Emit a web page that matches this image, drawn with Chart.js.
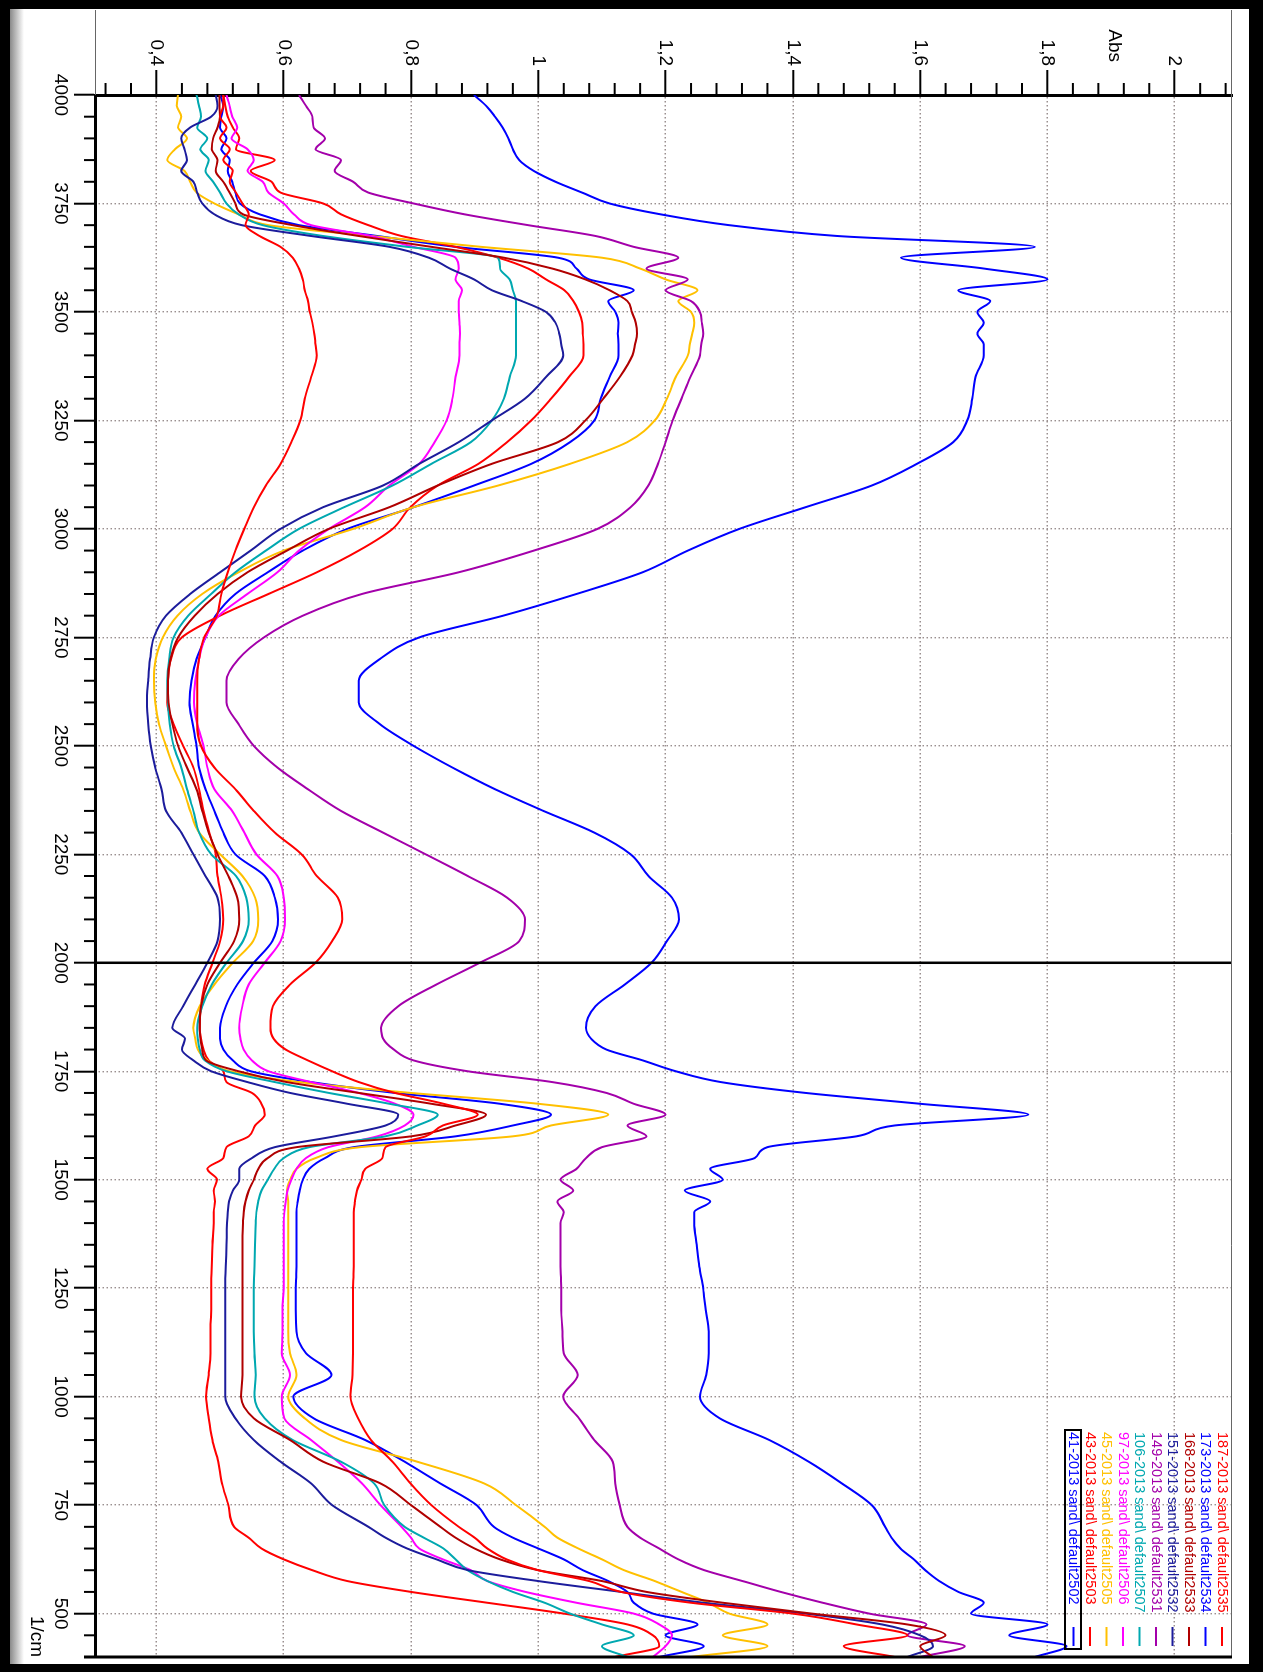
<!DOCTYPE html>
<html>
<head>
<meta charset="utf-8">
<script src="https://cdn.jsdelivr.net/npm/chart.js@4.4.1/dist/chart.umd.min.js"></script>
<style>
html, body { margin:0; padding:0; background:#fff; }
#page { position:relative; width:1263px; height:1672px; overflow:hidden; background:#fff; }
#frame { position:absolute; left:0; top:0; width:1263px; height:1672px; box-sizing:border-box;
  border-style:solid; border-color:#000; border-width:9px 14px 8px 10px; }
#shade { position:absolute; left:10px; top:9px; width:14px; height:1655px;
  background:linear-gradient(to right, #8a8a8a, #fff); }
#rot { position:absolute; left:0; top:0; width:1672px; height:1263px;
  transform-origin:0 0; transform:translate(1263px,0) rotate(90deg); }
</style>
</head>
<body>
<div id="page">
  <div id="frame"></div>
  <div id="shade"></div>
  <div id="rot"><canvas id="spec" width="1672" height="1263" style="width:1672px;height:1263px"></canvas></div>
</div>
<script>
/* ================= AXES ================= */
const wnTicks = [4000, 3750, 3500, 3250, 3000, 2750, 2500, 2250, 2000, 1750, 1500, 1250, 1000, 750, 500];
const absTicks = [0.4, 0.6, 0.8, 1, 1.2, 1.4, 1.6, 1.8, 2];

/* ================= WAVENUMBERS (1/cm) ================= */
const wavenumbers = [
4000,3975,3950,3925,3900,3875,3850,3825,3800,3775,3750,3725,3700,3675,3650,3625,3600,3575,3550,3525,3500,3475,3450,3425,3400,
3350,3300,3250,3200,3150,3100,3050,3000,2950,2900,2850,2800,2750,2700,2650,2600,2550,2500,2450,2400,2350,2300,2250,2200,2150,2100,2050,2000,1950,1900,1850,
1825,1800,1775,1750,1725,1700,1675,1650,1625,1600,1575,1550,1525,1500,1475,1450,1425,
1400,1350,1300,1250,1200,1150,1100,1050,1000,950,900,850,800,750,700,
675,650,625,600,575,550,525,500,475,450,425,400
];

/* ================= SPECTRA (Abs) ================= */
const s187 = [
0.505,0.505,0.500,0.510,0.500,0.515,0.505,0.520,0.515,0.525,0.535,0.545,0.540,0.562,0.595,0.614,0.624,0.630,0.633,0.638,0.641,0.645,0.648,0.650,0.652,
0.643,0.633,0.626,0.612,0.595,0.572,0.553,0.538,0.524,0.512,0.502,0.495,0.475,0.467,0.464,0.464,0.464,0.470,0.491,0.524,0.553,0.586,0.628,0.652,0.685,0.692,0.676,0.650,0.610,0.583,0.579,
0.584,0.603,0.638,0.676,0.718,0.775,0.851,0.905,0.850,0.823,0.760,0.755,0.728,0.722,0.715,0.712,0.710,
0.710,0.710,0.710,0.709,0.709,0.709,0.709,0.708,0.705,0.717,0.737,0.771,0.799,0.832,0.875,
0.900,0.920,0.950,1.000,1.080,1.130,1.240,1.400,1.500,1.580,1.480,1.560
];
const s173 = [
0.899,0.918,0.932,0.944,0.953,0.960,0.970,0.993,1.027,1.069,1.112,1.192,1.300,1.470,1.780,1.570,1.700,1.800,1.660,1.710,1.690,1.700,1.690,1.700,1.700,
1.687,1.682,1.674,1.652,1.595,1.524,1.420,1.316,1.235,1.164,1.060,0.945,0.813,0.751,0.718,0.718,0.751,0.804,0.865,0.932,1.008,1.088,1.145,1.173,1.210,1.221,1.202,1.178,1.136,1.090,1.075,
1.083,1.107,1.164,1.216,1.287,1.420,1.600,1.770,1.560,1.500,1.360,1.340,1.270,1.290,1.230,1.270,1.245,
1.245,1.249,1.253,1.259,1.263,1.268,1.268,1.264,1.254,1.285,1.363,1.425,1.477,1.524,1.545,
1.555,1.569,1.590,1.608,1.630,1.660,1.700,1.680,1.800,1.740,1.830,1.780
];
const s168 = [
0.499,0.499,0.500,0.496,0.489,0.487,0.496,0.493,0.505,0.515,0.524,0.536,0.614,0.718,0.832,0.946,1.022,1.074,1.112,1.140,1.147,1.153,1.155,1.152,1.148,
1.128,1.102,1.074,1.031,0.927,0.842,0.766,0.671,0.605,0.543,0.496,0.460,0.434,0.422,0.418,0.419,0.425,0.434,0.448,0.463,0.472,0.482,0.496,0.513,0.527,0.530,0.522,0.500,0.480,0.470,0.468,
0.469,0.472,0.478,0.529,0.605,0.718,0.832,0.918,0.870,0.800,0.620,0.575,0.560,0.553,0.545,0.540,0.537,
0.536,0.535,0.535,0.535,0.535,0.535,0.535,0.535,0.533,0.553,0.610,0.662,0.752,0.800,0.846,
0.870,0.900,0.940,1.000,1.100,1.170,1.290,1.430,1.580,1.640,1.600,1.620
];
const s151 = [
0.493,0.496,0.486,0.453,0.439,0.444,0.448,0.439,0.458,0.464,0.472,0.491,0.534,0.643,0.766,0.828,0.861,0.899,0.927,0.974,1.012,1.027,1.033,1.036,1.039,
1.012,0.979,0.927,0.875,0.813,0.756,0.662,0.595,0.548,0.500,0.453,0.415,0.396,0.390,0.387,0.385,0.387,0.391,0.398,0.408,0.415,0.439,0.458,0.477,0.496,0.500,0.496,0.480,0.461,0.442,0.425,
0.445,0.440,0.458,0.486,0.543,0.610,0.700,0.780,0.760,0.680,0.586,0.550,0.530,0.530,0.520,0.514,0.512,
0.511,0.510,0.509,0.508,0.508,0.508,0.508,0.508,0.508,0.524,0.553,0.595,0.643,0.676,0.733,
0.760,0.794,0.840,0.890,1.000,1.130,1.260,1.420,1.540,1.600,1.620,1.580
];
const s149 = [
0.624,0.635,0.645,0.647,0.665,0.650,0.690,0.680,0.709,0.733,0.804,0.884,0.984,1.090,1.150,1.220,1.170,1.235,1.200,1.240,1.254,1.257,1.259,1.256,1.254,
1.239,1.225,1.211,1.200,1.188,1.173,1.145,1.093,0.993,0.875,0.723,0.630,0.569,0.529,0.510,0.510,0.529,0.553,0.590,0.638,0.690,0.756,0.823,0.889,0.951,0.979,0.970,0.908,0.840,0.780,0.753,
0.756,0.773,0.804,0.889,1.022,1.107,1.150,1.200,1.140,1.170,1.100,1.075,1.060,1.035,1.055,1.030,1.040,
1.035,1.035,1.035,1.036,1.036,1.038,1.040,1.062,1.039,1.064,1.088,1.117,1.121,1.128,1.140,
1.160,1.190,1.220,1.261,1.321,1.381,1.447,1.520,1.610,1.580,1.670,1.600
];
const s106 = [
0.463,0.467,0.470,0.464,0.480,0.469,0.482,0.477,0.489,0.500,0.510,0.529,0.567,0.662,0.794,0.937,0.940,0.955,0.960,0.965,0.965,0.965,0.965,0.965,0.965,
0.955,0.946,0.927,0.894,0.832,0.771,0.695,0.624,0.572,0.524,0.486,0.450,0.427,0.420,0.417,0.418,0.421,0.427,0.439,0.448,0.458,0.467,0.486,0.525,0.541,0.545,0.536,0.510,0.487,0.472,0.464,
0.465,0.468,0.476,0.510,0.586,0.671,0.766,0.842,0.810,0.760,0.640,0.600,0.585,0.575,0.565,0.560,0.557,
0.556,0.555,0.554,0.553,0.553,0.553,0.554,0.556,0.554,0.570,0.614,0.690,0.742,0.758,0.790,
0.820,0.851,0.870,0.889,0.920,0.960,1.010,1.050,1.100,1.150,1.100,1.140
];
const s97 = [
0.510,0.515,0.519,0.527,0.518,0.543,0.553,0.543,0.567,0.576,0.600,0.616,0.643,0.737,0.804,0.870,0.875,0.870,0.880,0.875,0.875,0.876,0.877,0.876,0.876,
0.870,0.865,0.856,0.837,0.813,0.766,0.728,0.671,0.624,0.590,0.543,0.498,0.477,0.467,0.461,0.459,0.464,0.474,0.480,0.491,0.519,0.538,0.557,0.590,0.600,0.602,0.595,0.570,0.545,0.535,0.530,
0.532,0.537,0.550,0.576,0.643,0.718,0.775,0.804,0.790,0.747,0.670,0.635,0.620,0.612,0.606,0.603,0.601,
0.600,0.600,0.600,0.600,0.598,0.598,0.597,0.610,0.597,0.601,0.643,0.685,0.723,0.752,0.785,
0.800,0.813,0.850,0.894,0.920,0.980,1.060,1.150,1.190,1.210,1.200,1.180
];
const s45 = [
0.434,0.432,0.439,0.434,0.448,0.429,0.417,0.444,0.453,0.463,0.491,0.529,0.576,0.737,0.910,1.100,1.160,1.200,1.250,1.220,1.240,1.245,1.242,1.238,1.235,
1.216,1.202,1.183,1.140,1.050,0.937,0.804,0.709,0.600,0.529,0.472,0.433,0.410,0.399,0.396,0.398,0.404,0.415,0.427,0.442,0.453,0.467,0.500,0.535,0.555,0.560,0.552,0.520,0.491,0.468,0.458,
0.461,0.465,0.480,0.515,0.624,0.800,1.000,1.110,1.020,0.960,0.720,0.650,0.620,0.610,0.605,0.607,0.607,
0.607,0.607,0.607,0.607,0.607,0.607,0.610,0.620,0.607,0.633,0.690,0.810,0.915,0.965,1.010,
1.030,1.063,1.100,1.135,1.183,1.225,1.267,1.300,1.360,1.290,1.360,1.240
];
const s43 = [
0.505,0.508,0.512,0.520,0.530,0.525,0.586,0.548,0.581,0.595,0.662,0.690,0.733,0.785,0.870,0.937,0.984,1.012,1.041,1.055,1.064,1.069,1.070,1.071,1.071,
1.048,1.020,0.989,0.951,0.906,0.842,0.799,0.771,0.718,0.652,0.576,0.500,0.440,0.423,0.418,0.417,0.427,0.442,0.458,0.467,0.474,0.483,0.493,0.496,0.502,0.505,0.500,0.488,0.476,0.470,0.468,
0.470,0.474,0.482,0.505,0.510,0.550,0.565,0.570,0.555,0.545,0.510,0.505,0.480,0.495,0.490,0.492,0.490,
0.490,0.488,0.487,0.486,0.486,0.485,0.485,0.482,0.478,0.482,0.488,0.497,0.503,0.513,0.522,
0.545,0.565,0.600,0.645,0.700,0.800,0.920,1.040,1.140,1.180,1.190,1.120
];
const s41 = [
0.500,0.505,0.502,0.500,0.510,0.502,0.515,0.512,0.519,0.524,0.531,0.562,0.624,0.747,0.870,1.031,1.060,1.080,1.150,1.110,1.121,1.126,1.125,1.126,1.126,
1.112,1.098,1.088,1.050,0.989,0.899,0.804,0.700,0.630,0.575,0.524,0.493,0.477,0.463,0.455,0.452,0.457,0.463,0.467,0.477,0.491,0.505,0.524,0.570,0.586,0.591,0.582,0.553,0.527,0.509,0.500,
0.500,0.505,0.520,0.548,0.643,0.775,0.940,1.020,0.960,0.870,0.710,0.665,0.640,0.630,0.625,0.622,0.620,
0.620,0.620,0.620,0.619,0.619,0.620,0.635,0.675,0.615,0.647,0.728,0.790,0.846,0.903,0.930,
0.960,1.000,1.040,1.070,1.110,1.140,1.150,1.180,1.250,1.200,1.260,1.190
];

const seriesNames = [
"187-2013 sand\\ default2535","173-2013 sand\\ default2534","168-2013 sand\\ default2533",
"151-2013 sand\\ default2532","149-2013 sand\\ default2531","106-2013 sand\\ default2507",
"97-2013 sand\\ default2506","45-2013 sand\\ default2505","43-2013 sand\\ default2503",
"41-2013 sand\\ default2502"
];
const seriesValues = [s187, s173, s168, s151, s149, s106, s97, s45, s43, s41];
const seriesColors = ["#ff0000","#0000ff","#b00000","#1c1c9c","#a300aa","#00a8b0","#ff00ff","#ffc000","#ff0000","#0000ff"];

const FONT = "'Liberation Sans', Arial, sans-serif";

/* ================= EXTRA DRAWING ================= */
const decor = {
  id: "decor",
  afterDatasetsDraw(chart) {
    const {ctx, chartArea: a, scales: {x}} = chart;
    // solid marker line at 2000 1/cm
    const px = x.getPixelForValue(2000);
    ctx.save();
    ctx.strokeStyle = "#000";
    ctx.lineWidth = 2.5;
    ctx.beginPath(); ctx.moveTo(px, a.top); ctx.lineTo(px, a.bottom); ctx.stroke();
    ctx.restore();
  },
  afterDraw(chart) {
    const {ctx, chartArea: a, scales: {x, y}} = chart;
    ctx.save();

    // minor ticks
    ctx.strokeStyle = "#000";
    ctx.lineWidth = 2;
    for (let w = 400; w <= 4000; w += 50) {
      if (w % 250 === 0) continue;
      const px = x.getPixelForValue(w);
      ctx.beginPath(); ctx.moveTo(px, a.bottom); ctx.lineTo(px, a.bottom + 12); ctx.stroke();
    }
    for (let k = 8; k <= 52; k++) {
      if (k % 5 === 0) continue;
      const py = y.getPixelForValue(k * 0.04);
      ctx.beginPath(); ctx.moveTo(a.left - 12, py); ctx.lineTo(a.left, py); ctx.stroke();
    }

    // plot frame (top thin, right thick)
    ctx.lineWidth = 1;
    ctx.strokeStyle = "#666";
    ctx.beginPath(); ctx.moveTo(10, a.top + 0.5); ctx.lineTo(a.right, a.top + 0.5); ctx.stroke();
    ctx.beginPath(); ctx.moveTo(10, a.bottom + 0.5); ctx.lineTo(a.left, a.bottom + 0.5); ctx.stroke();
    ctx.lineWidth = 3;
    ctx.strokeStyle = "#000";
    ctx.beginPath(); ctx.moveTo(a.right, a.top); ctx.lineTo(a.right, a.bottom + 12); ctx.stroke();

    // axis titles
    ctx.fillStyle = "#000";
    ctx.font = "19px " + FONT;
    ctx.textBaseline = "middle";
    ctx.textAlign = "right";
    ctx.fillText("Abs", 62, y.getPixelForValue(1.905));
    ctx.textAlign = "left";
    ctx.fillText("1/cm", 1616, 1227);

    // legend
    ctx.font = "14.5px " + FONT;
    seriesNames.forEach((name, i) => {
      const ly = 41 + i * 16.5;
      ctx.fillStyle = seriesColors[i];
      ctx.fillText(name, 1432, ly);
      ctx.strokeStyle = seriesColors[i];
      ctx.lineWidth = 2;
      ctx.beginPath(); ctx.moveTo(1627, ly); ctx.lineTo(1646, ly); ctx.stroke();
    });
    ctx.strokeStyle = "#000";
    ctx.lineWidth = 2;
    ctx.strokeRect(1430, 182, 219, 16);

    ctx.restore();
  }
};

/* ================= CHART ================= */
const datasets = seriesValues.map((vals, i) => ({
  label: seriesNames[i],
  data: wavenumbers.map((w, j) => ({x: w, y: vals[j]})),
  borderColor: seriesColors[i],
  borderWidth: 2,
  pointRadius: 0,
  fill: false,
  cubicInterpolationMode: "monotone"
}));

const ctx = document.getElementById("spec").getContext("2d");
new Chart(ctx, {
  type: "line",
  data: { datasets },
  plugins: [decor],
  options: {
    responsive: false,
    animation: false,
    layout: { padding: { top: 31, right: 15, left: 0, bottom: 0 } },
    plugins: { legend: { display: false }, tooltip: { enabled: false } },
    scales: {
      x: {
        type: "linear",
        reverse: true,
        min: 400,
        max: 4000,
        afterBuildTicks: s => { s.ticks = wnTicks.map(v => ({value: v})); },
        afterFit: s => { s.height = 96; },
        ticks: {
          autoSkip: false, maxRotation: 0, minRotation: 0, padding: 2,
          color: "#000", font: { family: FONT, size: 19 },
          callback: v => String(v)
        },
        grid: { color: "#9a8f8f", lineWidth: 1.4, tickLength: 22, tickColor: "#000", tickWidth: 2 },
        border: { display: true, color: "#000", width: 3, dash: [1.5, 2.5] }
      },
      y: {
        type: "linear",
        min: 0.305,
        max: 2.09,
        afterBuildTicks: s => { s.ticks = absTicks.map(v => ({value: v})); },
        afterFit: s => { s.width = 95; },
        ticks: {
          padding: 4, color: "#000", font: { family: FONT, size: 19 },
          callback: v => String(v).replace(".", ",")
        },
        grid: { color: "#9a8f8f", lineWidth: 1.4, tickLength: 25, tickColor: "#000", tickWidth: 2 },
        border: { display: true, color: "#000", width: 3, dash: [1.5, 2.5] }
      }
    }
  }
});
</script>
</body>
</html>
